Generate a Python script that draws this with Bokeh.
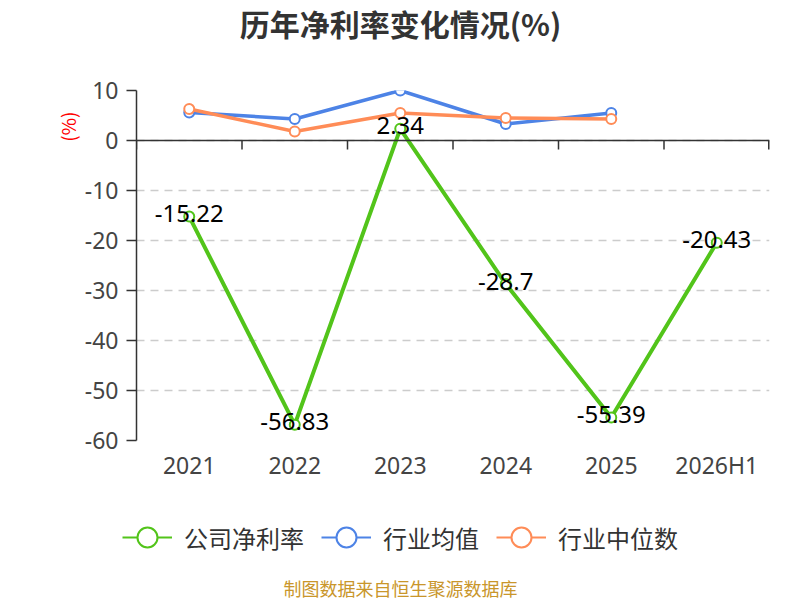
from math import pi
from bokeh.plotting import figure
from bokeh.layouts import column
from bokeh.models import (FactorRange, Range1d, FixedTicker, Span, ColumnDataSource,
                          LabelSet, Label, Legend, LegendItem, Title)
from bokeh.core.properties import value
from bokeh.transform import dodge
from bokeh.embed import file_html
from bokeh.resources import INLINE

years = ["2021", "2022", "2023", "2024", "2025", "2026H1"]
company = [-15.22, -56.83, 2.34, -28.7, -55.39, -20.43]
ind_years = ["2021", "2022", "2023", "2024", "2025"]
ind_mean = [5.6, 4.3, 10.0, 3.3, 5.5]
ind_median = [6.3, 1.8, 5.5, 4.5, 4.3]
y_ticks = [-60, -50, -40, -30, -20, -10, 0, 10]
series_names = ["公司净利率", "行业均值", "行业中位数"]
title_text = "历年净利率变化情况(%)"
unit_text = "(%)"
source_text = "制图数据来自恒生聚源数据库"

GREEN = "#52C41A"
BLUE = "#4D83E6"
ORANGE = "#FF8C57"
COLORS = [GREEN, BLUE, ORANGE]
NUM_FONT = "Noto Sans"
CJK_FONT = "Noto Sans CJK SC"


def strip(height):
    f = figure(width=800, height=height, x_range=Range1d(0, 800), y_range=Range1d(0, height),
               output_backend="svg", toolbar_location=None, x_axis_type=None,
               y_axis_type=None, min_border=0, title=None)
    f.outline_line_color = None
    f.xgrid.grid_line_color = None
    f.ygrid.grid_line_color = None
    f.frame_align = False
    return f


# ---- top strip: title ----
t = strip(45)
t.add_layout(Label(x=400, x_units="screen", y=23, y_units="screen", text=title_text,
                   text_align="center", text_baseline="middle", text_color="#333333",
                   text_font=CJK_FONT, text_font_size="30px", text_font_style="bold"))

# ---- main chart ----
p = figure(x_range=FactorRange(*years), y_range=Range1d(-60, 10),
           width=800, height=445, output_backend="svg", toolbar_location=None,
           min_border_left=136, min_border_right=31, min_border_top=45,
           min_border_bottom=50, title=None)
p.frame_align = False
p.outline_line_color = None
p.background_fill_color = "white"

p.xaxis.axis_line_color = None
p.xaxis.major_tick_line_color = None
p.xaxis.major_tick_out = 0
p.xaxis.major_tick_in = 0
p.xaxis.minor_tick_line_color = None
p.xaxis.major_label_text_font = NUM_FONT
p.xaxis.major_label_text_font_size = "23px"
p.xaxis.major_label_text_color = "#444444"
p.xaxis.major_label_standoff = 8

p.yaxis.ticker = FixedTicker(ticks=y_ticks)
p.yaxis.major_label_overrides = {v: str(v) for v in y_ticks}
p.yaxis.axis_line_color = "#333333"
p.yaxis.axis_line_width = 1.5
p.yaxis.major_tick_line_color = "#333333"
p.yaxis.major_tick_line_width = 1.5
p.yaxis.major_tick_out = 10
p.yaxis.major_tick_in = 0
p.yaxis.minor_tick_line_color = None
p.yaxis.major_label_text_font = NUM_FONT
p.yaxis.major_label_text_font_size = "23px"
p.yaxis.major_label_text_color = "#444444"
p.yaxis.major_label_standoff = 8

p.xgrid.grid_line_color = None
p.ygrid.grid_line_color = "#cccccc"
p.ygrid.grid_line_dash = "8 6"
p.ygrid.grid_line_width = 1.3

# zero axis line with category boundary ticks
p.add_layout(Span(location=0, dimension="width", line_color="#333333", line_width=1.5))
tick_src = ColumnDataSource(dict(x=years))
p.ray(x=dodge("x", -0.5, range=p.x_range), y=0, length=9, length_units="screen",
      angle=-pi / 2, line_color="#333333", line_width=1.5, source=tick_src)
end_src = ColumnDataSource(dict(x=years[-1:]))
p.ray(x=dodge("x", 0.5, range=p.x_range), y=0, length=9, length_units="screen",
      angle=-pi / 2, line_color="#333333", line_width=3, source=end_src)

comp_src = ColumnDataSource(dict(x=years, y=company, label=[str(v) for v in company]))
mean_src = ColumnDataSource(dict(x=ind_years, y=ind_mean))
med_src = ColumnDataSource(dict(x=ind_years, y=ind_median))

for src, col, lw in [(comp_src, GREEN, 4), (mean_src, BLUE, 3.5), (med_src, ORANGE, 3.5)]:
    p.line("x", "y", source=src, line_color=col, line_width=lw)
    p.scatter("x", "y", source=src, size=10, fill_color="white",
              line_color=col, line_width=2)

p.add_layout(LabelSet(x="x", y="y", text="label", source=comp_src,
                      text_align="center", text_baseline="middle", y_offset=3,
                      text_font=value(NUM_FONT), text_font_size="24px",
                      text_color="#000000"))

p.add_layout(Title(text=unit_text, align="right", offset=21, standoff=2,
                   text_font=CJK_FONT, text_font_size="19px", text_font_style="normal",
                   text_color="#ff0000"), "left")

# ---- bottom strip: legend + source note ----
q = strip(110)
nan = float("nan")
items = []
for name, col in zip(series_names, COLORS):
    lr = q.line(x=[nan], y=[nan], line_color=col, line_width=2)
    sr = q.scatter(x=[nan], y=[nan], size=10, fill_color="white", line_color=col,
                   line_width=2)
    items.append(LegendItem(label=name, renderers=[lr, sr]))

legend = Legend(items=items, orientation="horizontal", location=(122, 35),
                label_text_font=CJK_FONT, label_text_font_size="24px",
                label_text_color="#333333", glyph_width=50, glyph_height=56,
                label_standoff=12, spacing=17, padding=0, margin=0,
                border_line_color=None, background_fill_alpha=0)
q.add_layout(legend, "center")

q.add_layout(Label(x=400, x_units="screen", y=13, y_units="screen", text=source_text,
                   text_align="center", text_baseline="middle", text_color="#C9962B",
                   text_font=CJK_FONT, text_font_size="18px"))

layout = column(t, p, q, spacing=0)
open("out.html", "w").write(file_html(layout, INLINE))
